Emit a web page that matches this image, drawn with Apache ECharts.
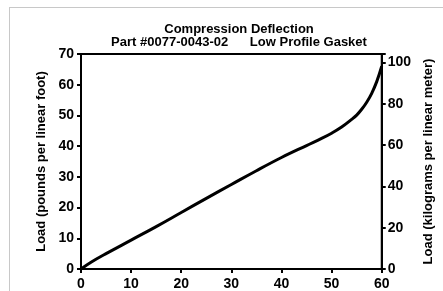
<!DOCTYPE html>
<html>
<head>
<meta charset="utf-8">
<script src="https://cdn.jsdelivr.net/npm/echarts@6/dist/echarts.min.js"></script>
<style>
	body { margin: 0; background: #fff; overflow: hidden; }
	#frame { position: absolute; left: 9px; top: 7px; width: 460px; height: 300px; border-top: 1px solid #c8c8c8; border-left: 1px solid #c8c8c8; }
	#main { position: absolute; left: 0; top: 0; width: 443px; height: 291px; }
</style>
</head>
<body>
<div id="frame"></div>
<div id="main"></div>
<script>
	// deflection (x) vs load in lb per linear foot
	var deflection = [0, 2, 5, 10, 15, 20, 25, 30, 35, 40, 45, 48, 50, 52, 54, 55, 56, 57, 58, 59, 60]
	var loadLbFt = [0, 2.2, 5, 9.4, 13.8, 18.4, 23, 27.5, 32, 36.3, 40.2, 42.5, 44.2, 46.2, 48.7, 50.1, 52, 54.3, 57.2, 61, 66]
	var xTicks = [0, 10, 20, 30, 40, 50, 60]
	var lbTicks = [0, 10, 20, 30, 40, 50, 60, 70]
	var kgTicks = [0, 20, 40, 60, 80, 100]
	var lbToKg = 1.48816

	var fontName = 'Liberation Sans'
	var lineData = deflection.map(function (d, i) { return [d, loadLbFt[i]] })

	var chart = echarts.init(document.getElementById('main'), null, { renderer: 'canvas' })
	chart.setOption({
		animation: false,
		title: {
			text: 'Compression Deflection',
			subtext: 'Part #0077-0043-02      Low Profile Gasket',
			left: 234, textAlign: 'center',
			top: 18,
			itemGap: 0,
			textStyle: { fontFamily: fontName, fontWeight: 'bold', fontSize: 13, color: '#000' },
			subtextStyle: { fontFamily: fontName, fontWeight: 'bold', fontSize: 13, color: '#000' }
		},
		grid: {
			left: 81, right: 55, top: 54, bottom: 21,
			show: true, borderColor: '#000', borderWidth: 2
		},
		xAxis: {
			type: 'value', min: 0, max: 60, interval: 10,
			axisLine: { show: true, lineStyle: { color: '#000', width: 2 } },
			axisTick: { show: true, length: 4, lineStyle: { color: '#000', width: 2 } },
			axisLabel: {
				margin: 8, color: '#000', fontFamily: fontName, fontWeight: 'bold', fontSize: 14,
				formatter: function (v) { return xTicks.indexOf(v) >= 0 ? v : '' }
			},
			splitLine: { show: false }
		},
		yAxis: [{
			type: 'value', min: 0, max: 70, interval: 10, position: 'left',
			name: 'Load (pounds per linear foot)', nameLocation: 'middle', nameGap: 30,
			nameTextStyle: { fontFamily: fontName, fontWeight: 'bold', fontSize: 13, color: '#000' },
			axisLine: { show: true, lineStyle: { color: '#000', width: 2 } },
			axisTick: { show: true, length: 4, lineStyle: { color: '#000', width: 2 } },
			axisLabel: {
				margin: 7, color: '#000', fontFamily: fontName, fontWeight: 'bold', fontSize: 14,
				formatter: function (v) { return lbTicks.indexOf(v) >= 0 ? v : '' }
			},
			splitLine: { show: false }
		}, {
			type: 'value', min: 0, max: 70 * lbToKg, interval: 20, position: 'right',
			name: 'Load (kilograms per linear meter)', nameLocation: 'middle', nameGap: 32,
			nameRotate: 90,
			nameTextStyle: { fontFamily: fontName, fontWeight: 'bold', fontSize: 13, color: '#000' },
			axisLine: { show: true, lineStyle: { color: '#000', width: 2 } },
			axisTick: { show: true, length: 4, lineStyle: { color: '#000', width: 2 } },
			axisLabel: {
				margin: 6, color: '#000', fontFamily: fontName, fontWeight: 'bold', fontSize: 14,
				formatter: function (v) { return kgTicks.indexOf(v) >= 0 ? v : '' }
			},
			splitLine: { show: false }
		}],
		series: [{
			type: 'line',
			yAxisIndex: 0,
			data: lineData,
			smooth: 0.4,
			showSymbol: false,
			lineStyle: { color: '#000', width: 3 }
		}]
	})
</script>
</body>
</html>
